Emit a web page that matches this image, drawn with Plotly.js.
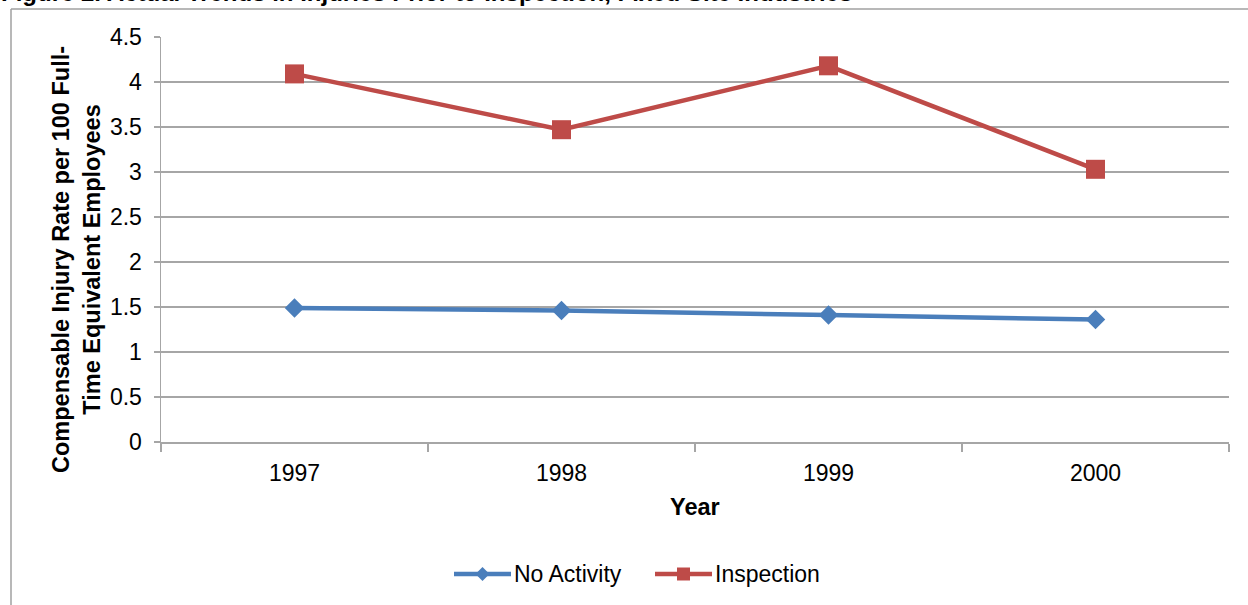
<!DOCTYPE html>
<html>
<head>
<meta charset="utf-8">
<script src="https://cdn.plot.ly/plotly-3.0.1.min.js"></script>
<style>html,body{margin:0;padding:0;background:#fff;}#chart{width:1248px;height:605px;}</style>
</head>
<body>
<div id="chart"></div>
<script>
const years = ["1997", "1998", "1999", "2000"];
const noActivity = [1.49, 1.46, 1.41, 1.36];
const inspection = [4.09, 3.47, 4.18, 3.03];
const yTicks = [0, 0.5, 1, 1.5, 2, 2.5, 3, 3.5, 4, 4.5];
const yTickLabels = ["0", "0.5", "1", "1.5", "2", "2.5", "3", "3.5", "4", "4.5"];
const seriesNames = ["No Activity", "Inspection"];
const seriesColors = ["#4A7EBB", "#BE4B48"];

const W = 1248, H = 605, L = 161, R = 19, T = 37, B = 163;
const pw = W - L - R, ph = H - T - B;
const px2x = p => (p - L) / pw;
const py2y = p => 1 - (p - T) / ph;

const FONT = "Liberation Sans, Arial, sans-serif";
const grid = "#A6A6A6";

const traces = [
  {
    x: years, y: noActivity, name: seriesNames[0], type: "scatter", mode: "lines+markers",
    line: {color: seriesColors[0], width: 4.5},
    marker: {symbol: "diamond", size: 15, color: seriesColors[0]}
  },
  {
    x: years, y: inspection, name: seriesNames[1], type: "scatter", mode: "lines+markers",
    line: {color: seriesColors[1], width: 4.5},
    marker: {symbol: "square", size: 19, color: seriesColors[1]}
  }
];

// custom legend (long sample lines like the reference)
function legendItem(lineStart, color, symbol, label) {
  const x0 = lineStart, x1 = lineStart + 57, cx = (x0 + x1) / 2, cy = 574;
  const shapes = [
    {type: "line", xref: "paper", yref: "paper", x0: px2x(x0), x1: px2x(x1), y0: py2y(cy), y1: py2y(cy),
     line: {color: color, width: 4.5}}
  ];
  let path;
  if (symbol === "diamond") {
    const r = 7;
    path = `M${px2x(cx)},${py2y(cy - r)} L${px2x(cx + r)},${py2y(cy)} L${px2x(cx)},${py2y(cy + r)} L${px2x(cx - r)},${py2y(cy)} Z`;
  } else {
    const r = 6.5;
    path = `M${px2x(cx - r)},${py2y(cy - r)} L${px2x(cx + r)},${py2y(cy - r)} L${px2x(cx + r)},${py2y(cy + r)} L${px2x(cx - r)},${py2y(cy + r)} Z`;
  }
  shapes.push({type: "path", xref: "paper", yref: "paper", path: path, fillcolor: color, line: {width: 0}});
  const ann = {
    text: label, xref: "paper", yref: "paper", x: px2x(x1 + 1), y: py2y(cy), xanchor: "left", yanchor: "middle",
    showarrow: false, font: {family: FONT, size: 23, color: "#000"}
  };
  return {shapes, ann};
}
const leg1 = legendItem(454, seriesColors[0], "diamond", seriesNames[0]);
const leg2 = legendItem(655, seriesColors[1], "square", seriesNames[1]);

const layout = {
  width: W, height: H,
  margin: {l: L, r: R, t: T, b: B, pad: 0},
  paper_bgcolor: "#fff", plot_bgcolor: "#fff",
  font: {family: FONT, size: 23, color: "#000"},
  showlegend: false,
  xaxis: {
    type: "category", range: [-0.5, 3.5],
    showgrid: false, zeroline: false,
    showline: true, linecolor: grid, linewidth: 1.5,
    ticks: "outside", tickson: "boundaries", ticklen: 8, tickcolor: grid, tickwidth: 1.5,
    tickfont: {family: FONT, size: 23, color: "#000"},
    ticklabelstandoff: 10,
    fixedrange: true
  },
  yaxis: {
    range: [0, 4.5], tickvals: yTicks, ticktext: yTickLabels,
    showgrid: true, gridcolor: grid, gridwidth: 1.5, zeroline: false,
    showline: true, linecolor: grid, linewidth: 1.5,
    ticks: "outside", ticklen: 6, tickcolor: grid, tickwidth: 1.5,
    tickfont: {family: FONT, size: 23, color: "#000"},
    ticklabelstandoff: 7,
    fixedrange: true
  },
  annotations: [
    {
      text: "<b>Figure 2. Actual Trends in Injuries Prior to Inspection, Fixed Site Industries</b>",
      xref: "paper", yref: "paper", x: px2x(-1), y: py2y(-7), xanchor: "left", yanchor: "middle",
      showarrow: false, font: {family: FONT, size: 24, color: "#000"}
    },
    {
      text: "<b>Compensable Injury Rate per 100 Full-<br>Time Equivalent Employees</b>",
      xref: "paper", yref: "paper", x: px2x(76), y: py2y(260), xanchor: "center", yanchor: "middle",
      textangle: -90, showarrow: false, font: {family: FONT, size: 23.5, color: "#000"}
    },
    {
      text: "<b>Year</b>",
      xref: "paper", yref: "paper", x: px2x(695), y: py2y(507), xanchor: "center", yanchor: "middle",
      showarrow: false, font: {family: FONT, size: 23.5, color: "#000"}
    },
    leg1.ann, leg2.ann
  ],
  shapes: [
    {type: "line", xref: "paper", yref: "paper", x0: px2x(11), x1: px2x(11), y0: py2y(9), y1: py2y(640),
     line: {color: "#A0A0A0", width: 1.5}},
    {type: "line", xref: "paper", yref: "paper", x0: px2x(11), x1: px2x(1300), y0: py2y(9), y1: py2y(9),
     line: {color: "#A0A0A0", width: 1.5}}
  ].concat(leg1.shapes, leg2.shapes)
};

Plotly.newPlot("chart", traces, layout, {displayModeBar: false, staticPlot: true});
</script>
</body>
</html>
